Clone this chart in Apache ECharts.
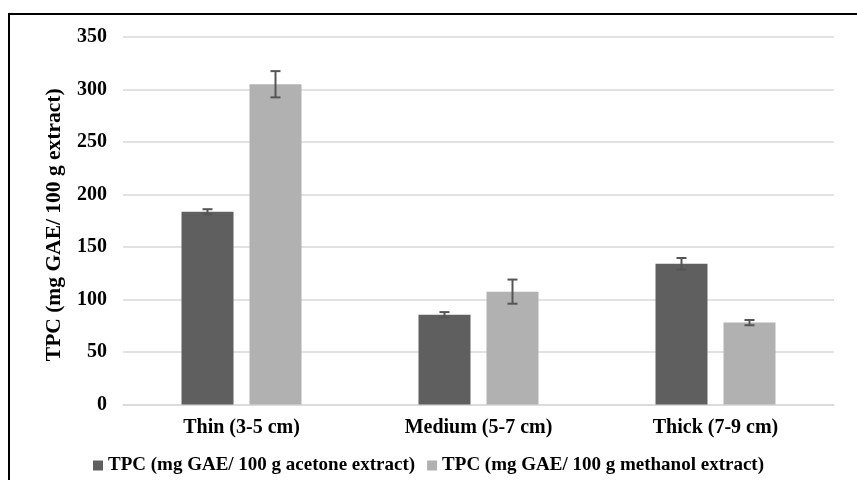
<!DOCTYPE html>
<html><head><meta charset="utf-8">
<script src="https://cdn.jsdelivr.net/npm/echarts@6/dist/echarts.min.js"></script>
<style>html,body{margin:0;padding:0;background:#fff}#c{width:857px;height:480px}</style>
</head><body><div id="c"></div>
<script>
const categories = ['Thin (3-5 cm)', 'Medium (5-7 cm)', 'Thick (7-9 cm)'];
const seriesNames = ['TPC (mg GAE/ 100 g acetone extract)', 'TPC (mg GAE/ 100 g methanol extract)'];
const acetone = [183.5, 85.5, 134];
const methanol = [305, 107.5, 78];
const acetoneErr = [2.5, 2.5, 5.5];
const methanolErr = [12.5, 11.5, 2.5];
const yTicks = [0, 50, 100, 150, 200, 250, 300, 350];

const FONT = '"Liberation Serif", "Times New Roman", serif';
const BAR_W = 52, BAR_GAP = 16;
const colors = ['#5f5f5f', '#b1b1b1'];

function errSeries(vals, errs, sign) {
  return {
    type: 'custom',
    silent: true,
    z: 5,
    data: vals.map((v, i) => [i, v, errs[i]]),
    renderItem: function (params, api) {
      const i = api.value(0), v = api.value(1), e = api.value(2);
      const off = sign * (BAR_W + BAR_GAP) / 2;
      const top = api.coord([i, v + e]);
      const bot = api.coord([i, v - e]);
      const x = top[0] + off;
      const cap = 5;
      const st = { stroke: '#555555', lineWidth: 2 };
      return {
        type: 'group',
        children: [
          { type: 'line', shape: { x1: x, y1: top[1], x2: x, y2: bot[1] }, style: st },
          { type: 'line', shape: { x1: x - cap, y1: top[1], x2: x + cap, y2: top[1] }, style: st },
          { type: 'line', shape: { x1: x - cap, y1: bot[1], x2: x + cap, y2: bot[1] }, style: st }
        ]
      };
    }
  };
}

const chart = echarts.init(document.getElementById('c'));
chart.setOption({
  animation: false,
  backgroundColor: '#fff',
  textStyle: { fontFamily: FONT },
  graphic: [{
    type: 'rect', shape: { x: 9, y: 14, width: 900, height: 500 },
    style: { fill: 'none', stroke: '#000', lineWidth: 2 }, silent: true
  }],
  grid: { left: 123, right: 23, top: 37, bottom: 75.5 },
  legend: {
    bottom: 0, left: 'center', itemWidth: 10, itemHeight: 10, itemGap: 12,
    icon: 'rect',
    data: seriesNames,
    textStyle: { fontFamily: FONT, fontWeight: 'bold', fontSize: 19, color: '#000' }
  },
  xAxis: {
    type: 'category', data: categories,
    axisLine: { lineStyle: { color: '#d9d9d9', width: 1.5 } },
    axisTick: { show: false },
    axisLabel: { fontFamily: FONT, fontWeight: 'bold', fontSize: 20, color: '#000', margin: 13 }
  },
  yAxis: {
    type: 'value', min: 0, max: 350, interval: 50,
    name: 'TPC (mg GAE/ 100 g extract)', nameLocation: 'middle', nameGap: 58,
    nameTextStyle: { fontFamily: FONT, fontWeight: 'bold', fontSize: 21.5, color: '#000', padding: [0, 8, 0, 0] },
    axisLine: { show: false }, axisTick: { show: false },
    splitLine: { lineStyle: { color: '#d9d9d9', width: 1.5 } },
    axisLabel: { fontFamily: FONT, fontWeight: 'bold', fontSize: 20, color: '#000', margin: 16,
      formatter: v => yTicks.includes(v) ? String(v) : '' }
  },
  series: [
    { name: seriesNames[0], type: 'bar', data: acetone, barWidth: BAR_W, barGap: (BAR_GAP / BAR_W * 100) + '%',
      itemStyle: { color: colors[0] } },
    { name: seriesNames[1], type: 'bar', data: methanol, barWidth: BAR_W,
      itemStyle: { color: colors[1] } },
    errSeries(acetone, acetoneErr, -1),
    errSeries(methanol, methanolErr, 1)
  ]
});
</script></body></html>
